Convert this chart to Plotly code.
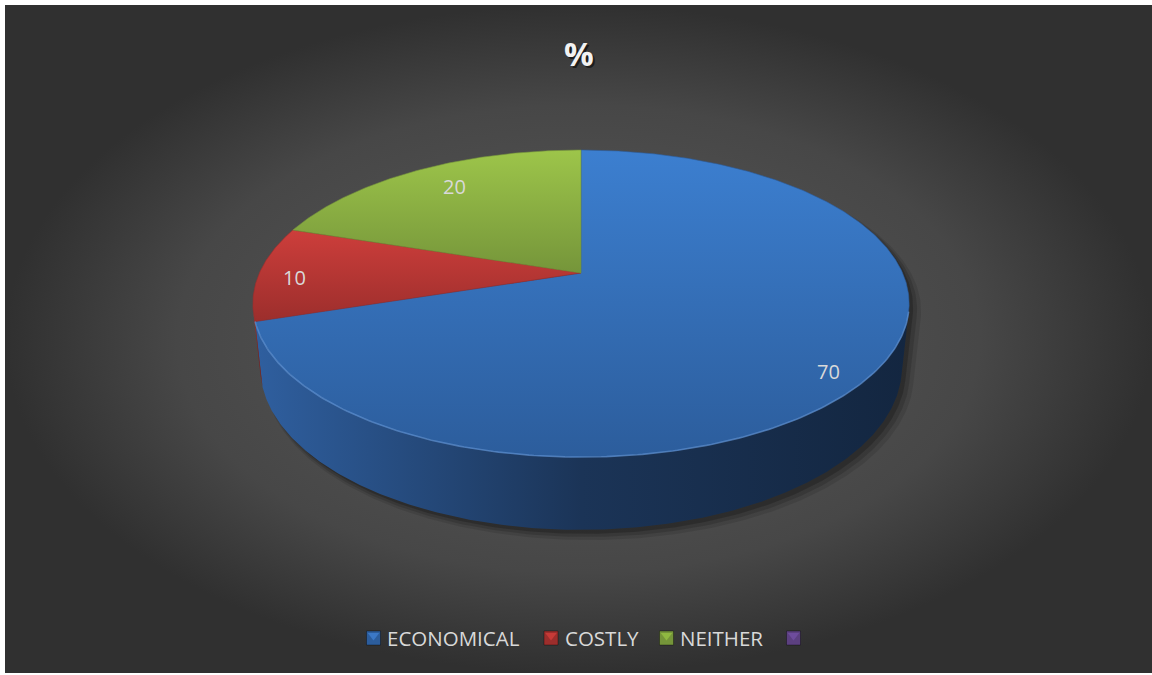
import numpy as np
import plotly.graph_objects as go

# ---- data -------------------------------------------------------------
categories = ["ECONOMICAL", "COSTLY", "NEITHER", ""]
values = [70, 10, 20, 0]
title_text = "%"

# colours per category: top face light/dark, wall light/dark, legend key
top_light = ["#3c7fd0", "#cd3e3b", "#9dc54a", "#7e5aa8"]
top_dark = ["#2c5d9c", "#9c2e2c", "#75953a", "#5c4080"]
wall_light = ["#2f5f9f", "#b3332f", "#7e9e3c", "#5c4080"]
wall_dark = ["#132640", "#7a2220", "#55702a", "#3b2a55"]
legend_col = ["#3b78c6", "#c63a37", "#8fb841", "#6e4c9c"]

# ---- 3-D projection of the disc ---------------------------------------
W, H = 1152, 675
CX, CY = 581.0, 273.0          # projected centre of the top face
ALPHA = np.radians(26.7)       # tilt of the disc
SA, CA = np.sin(ALPHA), np.cos(ALPHA)
DIST = 5.03 * CA               # camera distance (disc radius = 1)
FOC = 123.0 * (DIST + CA) / SA
XSCALE = 0.98                  # horizontal aspect of the view
THICK = 0.218                  # disc thickness


def project(X, Y, Z):
    w = DIST - (Z * CA + Y * SA)
    return CX + XSCALE * FOC * X / w, CY + FOC * (Z * SA - Y * CA) / w


def rim(t_deg, y=0.0, r=1.0):
    t = np.radians(t_deg)
    return project(r * np.sin(t), y, -r * np.cos(t))


total = float(sum(values))
bounds = np.concatenate([[0.0], np.cumsum(values) / total * 360.0])

# side wall faces the camera where cos(t) < -1/(DIST*cos(alpha))
t_vis = np.degrees(np.arccos(-1.0 / (DIST * CA)))
vis_lo, vis_hi = t_vis, 360.0 - t_vis

fig = go.Figure()

# background panel with radial shading
fig.add_trace(go.Scatter(
    x=[5, W, W, 5, 5], y=[5, 5, 673, 673, 5], mode="lines",
    line=dict(width=0), fill="toself",
    fillgradient=dict(type="radial",
                      colorscale=[[0, "#5a5a5a"], [0.7, "#474747"], [1, "#303030"]]),
    hoverinfo="skip", showlegend=False))

# soft outer shadow of the disc (to the lower right)
ts_front = np.linspace(vis_lo, vis_hi, 200)
ts_back = np.linspace(vis_hi, vis_lo + 360.0, 200)
bx, by = rim(ts_front, -THICK)
tx, ty = rim(ts_back, 0.0)
sil_x = np.concatenate([bx, tx])
sil_y = np.concatenate([by, ty])
sx0, sy0 = sil_x.mean(), sil_y.mean()
for grow, dx, dy, op in [(1.012, 8, 8, 0.10), (1.006, 6, 6, 0.14), (1.0, 4, 4, 0.2)]:
    fig.add_trace(go.Scatter(
        x=sx0 + (sil_x - sx0) * grow + dx, y=sy0 + (sil_y - sy0) * grow + dy,
        mode="lines", line=dict(width=0), fill="toself",
        fillcolor=f"rgba(0,0,0,{op})", hoverinfo="skip", showlegend=False))

# side walls
for i, v in enumerate(values):
    if v <= 0:
        continue
    a0, a1 = max(bounds[i], vis_lo), min(bounds[i + 1], vis_hi)
    if a1 <= a0:
        continue
    ts = np.linspace(a0, a1, max(int((a1 - a0) * 2), 8))
    ux, uy = rim(ts, 0.0)
    lx, ly = rim(ts[::-1], -THICK)
    px = np.concatenate([ux, lx, ux[:1]])
    py = np.concatenate([uy, ly, uy[:1]])
    mid_col = "#1b3457" if i == 0 else wall_dark[i]
    fig.add_trace(go.Scatter(
        x=px, y=py, mode="lines", line=dict(width=0), fill="toself",
        fillgradient=dict(type="horizontal",
                          colorscale=[[0, wall_light[i]], [0.5, mid_col], [1, wall_dark[i]]],
                          start=float(px.min()), stop=float(px.max())),
        hoverinfo="skip", showlegend=False))

# top faces
for i, v in enumerate(values):
    if v <= 0:
        continue
    ts = np.linspace(bounds[i], bounds[i + 1], max(int((bounds[i + 1] - bounds[i]) * 2), 8))
    ax, ay = rim(ts, 0.0)
    px = np.concatenate([[CX], ax, [CX]])
    py = np.concatenate([[CY], ay, [CY]])
    fig.add_trace(go.Scatter(
        x=px, y=py, mode="lines", line=dict(width=0.6, color=top_dark[i]), fill="toself",
        fillgradient=dict(type="vertical",
                          colorscale=[[0, top_light[i]], [1, top_dark[i]]],
                          start=float(py.min()), stop=float(py.max())),
        hoverinfo="skip", showlegend=False))

# light rim edge where the top face meets the wall
ts = np.linspace(vis_lo, min(bounds[1], vis_hi), 200)
ex, ey = rim(ts, 0.0)
fig.add_trace(go.Scatter(x=ex, y=ey, mode="lines",
                         line=dict(width=1.6, color="rgba(110,160,225,0.55)"),
                         hoverinfo="skip", showlegend=False))

# data labels on the top face
label_r = [0.855, 0.89, 0.75, 0.8]
label_dy = [-16, -4, 7, 0]
for i, v in enumerate(values):
    if v <= 0:
        continue
    mid = (bounds[i] + bounds[i + 1]) / 2.0
    lx, ly = rim(mid, 0.0, label_r[i])
    fig.add_annotation(x=float(lx), y=float(ly), text=str(v), showarrow=False,
                       yshift=label_dy[i],
                       font=dict(family="Open Sans", size=20, color="#d9d9d9"))

# title with a faint drop shadow
fig.add_annotation(x=581, y=55, text=f"<b>{title_text}</b>", showarrow=False,
                   font=dict(family="Open Sans", size=33, color="rgba(0,0,0,0.55)"))
fig.add_annotation(x=579, y=53, text=f"<b>{title_text}</b>", showarrow=False,
                   font=dict(family="Open Sans", size=33, color="#f2f2f2"))

# legend: bevelled square keys followed by names
key_x = [373.5, 551.0, 666.5, 793.5]
key_y = 638.0
fig.add_trace(go.Scatter(
    x=key_x, y=[key_y] * 4, mode="markers",
    marker=dict(symbol="square", size=14, color=top_dark,
                line=dict(width=1, color="rgba(0,0,0,0.35)")),
    hoverinfo="skip", showlegend=False))
fig.add_trace(go.Scatter(
    x=key_x, y=[key_y - 2.5] * 4, mode="markers",
    marker=dict(symbol="triangle-down", size=10, color=legend_col, line=dict(width=0)),
    hoverinfo="skip", showlegend=False))
for kx, name in zip(key_x, categories):
    if name:
        fig.add_annotation(x=kx + 11.5, y=key_y, text=name, showarrow=False,
                           xanchor="left",
                           font=dict(family="Open Sans", size=20.5, color="#d9d9d9"))

fig.update_layout(
    width=W, height=H, margin=dict(l=0, r=0, t=0, b=0),
    paper_bgcolor="#ffffff", plot_bgcolor="#ffffff",
    xaxis=dict(range=[0, W], visible=False, fixedrange=True),
    yaxis=dict(range=[H, 0], visible=False, fixedrange=True),
    showlegend=False, hovermode=False,
)

fig.write_html("out.html")
